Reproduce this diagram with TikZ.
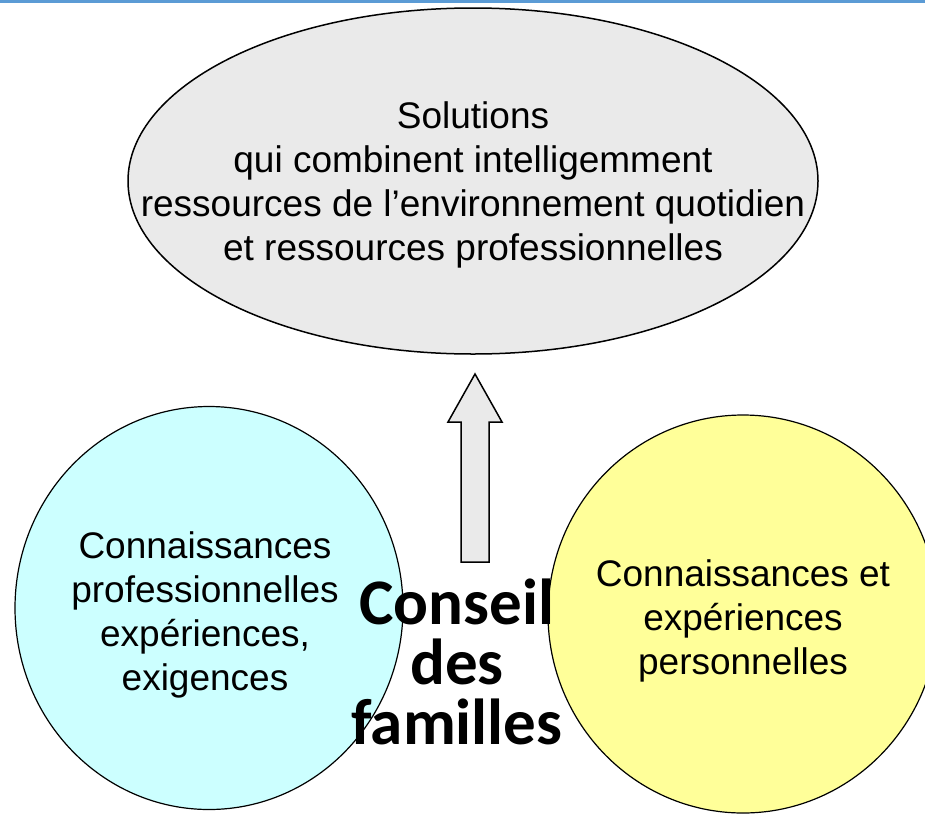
\documentclass[tikz,border=0pt]{standalone}
\usepackage{fontspec}
\setmainfont{Liberation Sans}
\newfontfamily\titlefont{Carlito}
\usepackage{tikz}
\usetikzlibrary{positioning,shapes.geometric}

\definecolor{topblue}{RGB}{91,155,213}
\definecolor{solgray}{RGB}{234,234,234}
\definecolor{procyan}{RGB}{204,255,255}
\definecolor{persyellow}{RGB}{255,255,153}

\begin{document}
\begin{tikzpicture}[x=1pt,y=-1pt,
    bubble/.style={ellipse,draw=black,line width=1.2pt,inner sep=0pt},
    bubbletext/.style={align=center,font=\fontsize{37}{44}\selectfont},
    bigtitle/.style={align=center,font=\titlefont\bfseries\fontsize{65}{60}\selectfont}]

  \useasboundingbox (0,0) rectangle (925,814);

  % rule along the top
  \draw[topblue,line width=3pt] (0,1.5) -- (925,1.5);

  % solutions ellipse
  \node[bubble,fill=solgray,line width=1.5pt,minimum width=690pt,minimum height=346pt] (solutions) at (473,181) {};
  \node[bubbletext] (solutionstext) at (473,185) {Solutions\\qui combinent intelligemment\\ressources de l’environnement quotidien\\et ressources professionnelles};

  % two sources of knowledge
  \node[bubble,fill=procyan,minimum width=388pt,minimum height=403pt] (pro) at (209,608) {};
  \node[bubbletext] (protext) at (205,615) {Connaissances\\professionnelles\\expériences,\\exigences};

  \node[bubble,fill=persyellow,minimum width=390pt,minimum height=398pt] (pers) at (743,614) {};
  \node[bubbletext] (perstext) at (743,621) {Connaissances et\\expériences\\personnelles};

  % block arrow up to the solutions
  \draw[fill=solgray,line width=1.5pt,line join=miter]
    (461,562) -- (461,422) -- (448,422) -- (475,374) -- (502,422) -- (489,422) -- (489,562) -- cycle;

  \node[bigtitle] (conseil) at (457,662) {Conseil\\des\\familles};

\end{tikzpicture}
\end{document}
